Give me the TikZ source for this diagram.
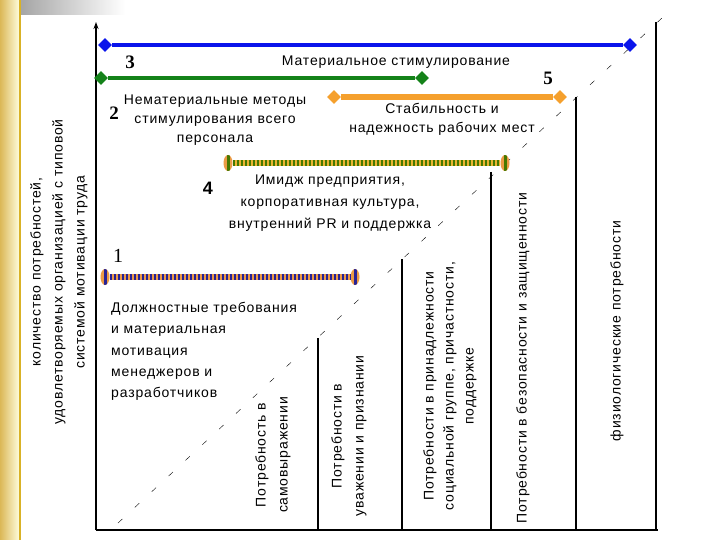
\documentclass[tikz,border=0pt]{standalone}
\usepackage{fontspec}
\setmainfont{Liberation Sans}[LetterSpace=6]
\newfontfamily\numfont{Liberation Serif}
\usetikzlibrary{shapes.geometric,arrows.meta}

\definecolor{barblue}{RGB}{10,20,235}
\definecolor{bargreen}{RGB}{20,130,25}
\definecolor{barorange}{RGB}{245,160,45}
\definecolor{stripegreen}{RGB}{70,120,0}
\definecolor{stripeyellow}{RGB}{235,180,50}
\definecolor{stripeblue}{RGB}{40,35,150}
\definecolor{stripeorange}{RGB}{235,155,70}

\begin{document}
\begin{tikzpicture}[x=1pt, y=-1pt, font=\fontsize{14}{16}\selectfont,
    diam/.style={diamond, fill=#1, minimum size=14pt, inner sep=0pt},
    bead/.style={ellipse, fill=stripeorange, minimum width=9pt, minimum height=16pt, inner sep=0pt,
      path picture={\fill[#1] ([xshift=-1.5pt]path picture bounding box.south) rectangle ([xshift=1.5pt]path picture bounding box.north);}},
    lbl/.style={align=center, inner sep=0pt},
    num/.style={font=\numfont\bfseries\fontsize{19}{19}\selectfont, inner sep=0pt},
    col/.style={align=center, inner sep=0pt, rotate=90, font=\fontsize{14}{22}\selectfont}]
  \useasboundingbox (0,0) rectangle (720,540);
  % slide background
  \fill[white] (0,0) rectangle (720,540);
  \fill[left color=brown!70!yellow!80, right color=yellow!12] (0,0) rectangle (20,540);
  \draw[brown!60!yellow, line width=1.5pt] (20,0) -- (20,540);
  \fill[left color=gray!70, right color=white] (21,0) rectangle (125,15);

  % axes and columns
  \coordinate (o) at (96,530);
  \coordinate (ytop) at (96,22);
  \coordinate (xend) at (658,530);
  \coordinate (d0) at (118,523);
  \coordinate (d1) at (662,18);
  \draw[line width=1.6pt, -{Stealth[length=7pt,width=5pt]}] (o) -- (ytop);
  \draw[line width=1.6pt] (o) -- (xend);
  \draw[dash pattern=on 6pt off 17pt] (d0) -- (d1);
  \foreach \x/\y in {318/338, 402/259, 491/172, 576/97, 656/22}
    \draw[line width=1.4pt] (\x,\y) -- (\x,530);

  % bars
  \node[diam=barblue] (b3l) at (105,45) {};
  \node[diam=barblue] (b3r) at (630,45) {};
  \node[diam=bargreen] (b2l) at (101,78) {};
  \node[diam=bargreen] (b2r) at (422,78) {};
  \node[diam=barorange] (b5l) at (334,97) {};
  \node[diam=barorange] (b5r) at (560,97) {};
  \node[bead=stripegreen] (b4l) at (228,163) {};
  \node[bead=stripegreen] (b4r) at (505,163) {};
  \node[bead=stripeblue] (b1l) at (105,277) {};
  \node[bead=stripeblue] (b1r) at (355,277) {};
  \draw[barblue, line width=4pt] (b3l) -- (b3r);
  \draw[bargreen, line width=4pt] (b2l) -- (b2r);
  \draw[barorange, line width=6pt] (b5l) -- (b5r);
  \draw[stripeyellow, line width=6pt] (b4l) -- (b4r);
  \draw[stripegreen, line width=6pt, dash pattern=on 2pt off 2pt] (b4l) -- (b4r);
  \draw[stripeorange, line width=6pt] (b1l) -- (b1r);
  \draw[stripeblue, line width=6pt, dash pattern=on 2pt off 2pt] (b1l) -- (b1r);

  % numbers and labels
  \node[num] (n3) at (130,62) {3};
  \node[num] (n2) at (114,113) {2};
  \node[num] (n5) at (548,78) {5};
  \node[inner sep=0pt, font=\bfseries\fontsize{18}{18}\selectfont] (n4) at (208,188) {4};
  \node[inner sep=0pt, font=\numfont\fontsize{20}{20}\selectfont] (n1) at (118,256) {1};
  \node[lbl] (t3) at (396,62) {Материальное стимулирование};
  \node[lbl, font=\fontsize{14}{19}\selectfont] (t2) at (215,120) {Нематериальные методы\\стимулирования всего\\персонала};
  \node[lbl, font=\fontsize{14}{19}\selectfont] (t5) at (442,119) {Стабильность и\\надежность рабочих мест};
  \node[lbl, font=\fontsize{14}{22}\selectfont] (t4) at (330,203) {Имидж предприятия,\\корпоративная культура,\\внутренний PR и поддержка};
  \node[align=left, inner sep=0pt, anchor=north west, font=\fontsize{14}{21.3}\selectfont] (t1) at (111,302)
    {Должностные требования\\и материальная\\мотивация\\менеджеров и\\разработчиков};
  \node[col] (ylab) at (59,272) {количество потребностей,\\удовлетворяемых организацией с типовой\\системой мотивации труда};
  \node[col] (c1) at (273,455) {Потребность в\\самовыражении};
  \node[col] (c2) at (349,436) {Потребности в\\уважении и признании};
  \node[col, font=\fontsize{14}{20}\selectfont] (c3) at (450,386) {Потребности в принадлежности\\социальной группе, причастности,\\поддержке};
  \node[col] (c4) at (523,358) {Потребности в безопасности и защищенности};
  \node[col] (c5) at (617,331) {физиологические потребности};
\end{tikzpicture}
\end{document}
